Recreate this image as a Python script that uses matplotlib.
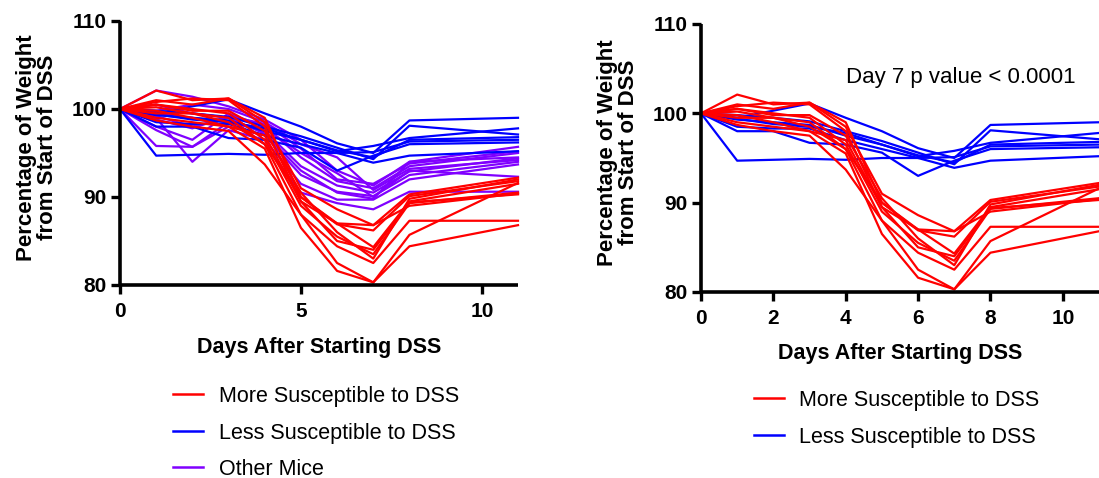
import matplotlib
matplotlib.use("Agg")
import matplotlib.pyplot as plt
from matplotlib.lines import Line2D

plt.rcParams['font.family'] = ['Liberation Sans', 'DejaVu Sans']

# days on which the mice were weighed
days = [0, 1, 2, 3, 4, 5, 6, 7, 8, 11]

# more susceptible mice (red)
red_mice = [
    [100, 102.1, 101.0, 101.2, 98.5, 91.0, 88.6, 86.8, 90.3, 92.2],
    [100, 101.0, 100.5, 101.2, 99.0, 90.0, 86.9, 86.2, 90.1, 91.8],
    [100, 100.8, 101.2, 101.0, 98.0, 89.5, 87.0, 84.3, 89.5, 91.5],
    [100, 100.5, 100.0, 99.5, 96.5, 89.0, 85.5, 83.5, 89.3, 90.5],
    [100, 99.5, 99.5, 98.5, 96.0, 88.0, 84.4, 82.5, 87.3, 87.3],
    [100, 99.0, 98.5, 98.0, 95.5, 86.5, 81.6, 80.3, 85.7, 91.6],
    [100, 98.7, 98.0, 97.5, 93.7, 88.0, 82.5, 80.3, 84.4, 86.8],
    [100, 100.2, 99.5, 99.0, 96.0, 90.0, 87.0, 86.8, 89.0, 90.4],
    [100, 99.8, 99.0, 98.0, 97.0, 89.5, 85.0, 84.0, 89.4, 90.3],
    [100, 100.5, 99.8, 99.8, 97.5, 90.5, 86.0, 83.0, 89.8, 92.0],
]

# less susceptible mice (blue)
blue_mice = [
    [100, 99.5, 100.3, 101.1, 99.5, 98.0, 96.1, 95.0, 98.7, 99.0],
    [100, 99.8, 99.5, 99.1, 98.0, 96.9, 95.6, 94.3, 98.1, 97.1],
    [100, 99.3, 99.0, 98.7, 97.5, 96.5, 95.2, 95.8, 96.7, 97.8],
    [100, 98.5, 98.3, 98.3, 97.0, 96.0, 95.0, 95.1, 96.3, 96.5],
    [100, 98.0, 98.0, 96.7, 96.5, 95.6, 93.0, 94.7, 96.0, 96.2],
    [100, 94.7, 94.8, 94.9, 94.8, 95.0, 95.0, 93.9, 94.7, 95.2],
    [100, 99.4, 98.8, 98.5, 97.8, 96.5, 95.3, 94.5, 96.5, 96.8],
]

# all other mice (purple), left panel only
purple_mice = [
    [100, 102.1, 101.4, 100.3, 98.8, 96.5, 93.0, 91.3, 94.0, 95.7],
    [100, 98.0, 96.5, 99.5, 98.0, 94.5, 91.8, 91.0, 93.5, 95.0],
    [100, 97.6, 95.7, 98.5, 97.5, 93.5, 91.3, 90.5, 92.9, 94.4],
    [100, 95.8, 95.7, 98.0, 97.0, 92.5, 90.6, 90.1, 92.5, 94.0],
    [100, 99.0, 94.0, 97.6, 96.5, 91.5, 89.7, 89.7, 92.0, 93.7],
    [100, 99.2, 98.0, 99.0, 96.0, 90.5, 89.3, 88.6, 90.6, 90.6],
    [100, 99.5, 99.0, 98.5, 97.8, 95.0, 92.7, 90.0, 93.0, 92.3],
    [100, 100.5, 99.5, 99.0, 97.2, 93.0, 90.5, 89.8, 94.0, 94.5],
    [100, 98.8, 97.8, 99.2, 98.3, 95.5, 92.0, 91.5, 93.8, 95.2],
    [100, 99.8, 100.5, 100.0, 98.5, 96.0, 94.5, 90.8, 93.2, 94.2],
]

RED = '#ff0000'
BLUE = '#0000ff'
PURPLE = '#8000ff'

W, H = 1099, 478
fig = plt.figure(figsize=(W / 100, H / 100), dpi=100)
# axes placed in pixels
ax1 = fig.add_axes([120 / W, 1 - 285 / H, 398 / W, 264 / H])
ax2 = fig.add_axes([701 / W, 1 - 292 / H, 398 / W, 268 / H])


def style_axes(ax, xticks, ylab_x):
    ax.set_xlim(0, 11)
    ax.set_ylim(80, 110)
    ax.set_xticks(xticks)
    ax.set_yticks([80, 90, 100, 110])
    for s in ['top', 'right']:
        ax.spines[s].set_visible(False)
    for s in ['left', 'bottom']:
        ax.spines[s].set_linewidth(2.6)
        ax.spines[s].set_capstyle('butt')
    ax.tick_params(width=2.4, length=6.5, direction='out', labelsize=15)
    ax.tick_params(axis='x', pad=6)
    ax.tick_params(axis='y', pad=3)
    for lab in ax.get_xticklabels() + ax.get_yticklabels():
        lab.set_fontweight('bold')
    ax.set_xlabel('Days After Starting DSS', fontsize=15.5, fontweight='bold')
    ax.xaxis.set_label_coords(0.5, -62 / (ax.get_position().height * H))
    ax.xaxis.label.set_va('center')
    ax.set_ylabel('Percentage of Weight\nfrom Start of DSS', fontsize=16, fontweight='bold',
                  linespacing=1.0)
    ax.yaxis.set_label_coords(ylab_x, 0.52)


# left panel: all mice
for y in purple_mice:
    ax1.plot(days, y, color=PURPLE, lw=1.6, clip_on=False)
for y in blue_mice:
    ax1.plot(days, y, color=BLUE, lw=1.6, clip_on=False)
for y in red_mice:
    ax1.plot(days, y, color=RED, lw=1.6, clip_on=False)
style_axes(ax1, [0, 5, 10], -0.155)

handles = [Line2D([], [], color=RED, lw=1.8),
           Line2D([], [], color=BLUE, lw=1.8),
           Line2D([], [], color=PURPLE, lw=1.8)]
fig.legend(handles, ['More Susceptible to DSS', 'Less Susceptible to DSS', 'Other Mice'],
           loc='upper left', bbox_to_anchor=(173 / W, 1 - 386 / H), frameon=False,
           fontsize=15.5, handlelength=1.4, handletextpad=0.75, labelspacing=0.72,
           borderpad=0, borderaxespad=0)

# right panel: the two groups only
for y in blue_mice:
    ax2.plot(days, y, color=BLUE, lw=1.6, clip_on=False)
for y in red_mice:
    ax2.plot(days, y, color=RED, lw=1.6, clip_on=False)
style_axes(ax2, [0, 2, 4, 6, 8, 10], -0.155)
fig.text(961 / W, 1 - 78 / H, 'Day 7 p value < 0.0001', ha='center', va='center',
         fontsize=16)
fig.legend(handles[:2], ['More Susceptible to DSS', 'Less Susceptible to DSS'],
           loc='upper left', bbox_to_anchor=(754 / W, 1 - 390 / H), frameon=False,
           fontsize=15.5, handlelength=1.4, handletextpad=0.7, labelspacing=0.72,
           borderpad=0, borderaxespad=0)

fig.savefig('out.png', dpi=100)
